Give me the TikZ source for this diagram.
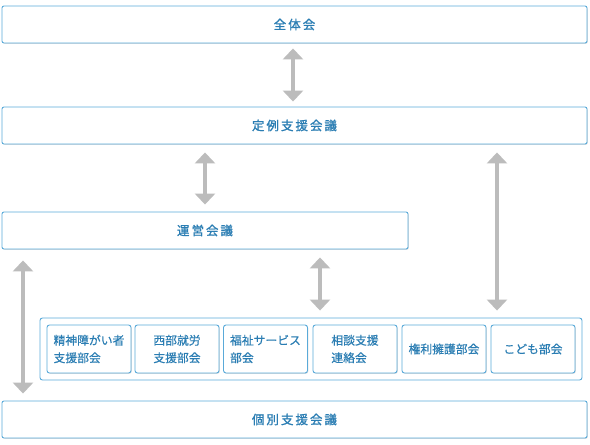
\documentclass[tikz,border=0pt]{standalone}
\usepackage{fontspec}
\setmainfont[FakeBold=0.4]{Noto Sans CJK JP}
\newfontfamily\titlefont[LetterSpace=16, FakeBold=1.2]{Noto Sans CJK JP}
\usetikzlibrary{arrows.meta,shadows}
\definecolor{boxline}{HTML}{5AAAD9}
\definecolor{boxtext}{HTML}{2A7DB3}
\definecolor{arrowgray}{HTML}{BCBCBC}

\begin{document}
\begin{tikzpicture}[x=1pt, y=-1pt]
    \tikzset{wide box/.style={draw=boxline, line width=0.9pt, rounded corners=2pt,
            fill=white, text=boxtext, font=\titlefont\fontsize{12.5}{14}\selectfont,
            minimum height=37pt, inner sep=0pt,
            drop shadow={shadow xshift=0.8pt, shadow yshift=-0.8pt, fill=black!25}},
        sub box/.style={draw=boxline, line width=0.9pt, rounded corners=2.5pt,
            fill=white, text=boxtext, font=\fontsize{11.8}{17.5}\selectfont,
            align=left, minimum width=84pt, minimum height=48pt, inner sep=0pt,
            drop shadow={shadow xshift=0.8pt, shadow yshift=-0.8pt, fill=black!25}},
        both way/.style={draw=arrowgray, line width=4.5pt,
            {Triangle[width=20pt,length=11pt]}-{Triangle[width=20pt,length=11pt]}}}
    \useasboundingbox (0,0) rectangle (590,445);
    \node[wide box, minimum width=585pt] (all) at (294.5,24.5) {全体会};
    \node[wide box, minimum width=585pt] (regular) at (294.5,125.5) {定例支援会議};
    \node[wide box, minimum width=406pt] (steer) at (205,230.5) {運営会議};
    \node[draw=boxline, line width=0.9pt, rounded corners=2.5pt, fill=white,
        minimum width=542pt, minimum height=62pt, inner sep=0pt] (group) at (311,349) {};
    \node[sub box] (mental) at (89,349) {精神障がい者\\支援部会};
    \node[sub box] (west) at (177,349) {西部就労\\支援部会};
    \node[sub box] (welfare) at (265.5,349) {福祉サービス\\部会};
    \node[sub box] (consult) at (355,349) {相談支援\\連絡会};
    \node[sub box] (rights) at (444,349) {権利擁護部会};
    \node[sub box] (kids) at (533,349) {こども部会};
    \node[wide box, minimum width=585pt] (case) at (294.5,419.5) {個別支援会議};
    % connectors
    \coordinate (mid col) at (320,0);
    \coordinate (right col) at (497,0);
    \coordinate (left col) at (23,0);
    \draw[both way, shorten <=5pt, shorten >=5pt] ([xshift=-1.5pt]all.south) -- ([xshift=-1.5pt]regular.north);
    \draw[both way, shorten <=8pt, shorten >=7pt] (regular.south -| steer.north) -- (steer.north);
    \draw[both way, shorten <=8pt, shorten >=7pt] (steer.south -| mid col) -- (group.north -| mid col);
    \draw[both way, shorten <=8pt, shorten >=7pt] (regular.south -| right col) -- (group.north -| right col);
    \draw[both way, shorten <=11pt, shorten >=7pt] (steer.south -| left col) -- (case.north -| left col);
\end{tikzpicture}
\end{document}
